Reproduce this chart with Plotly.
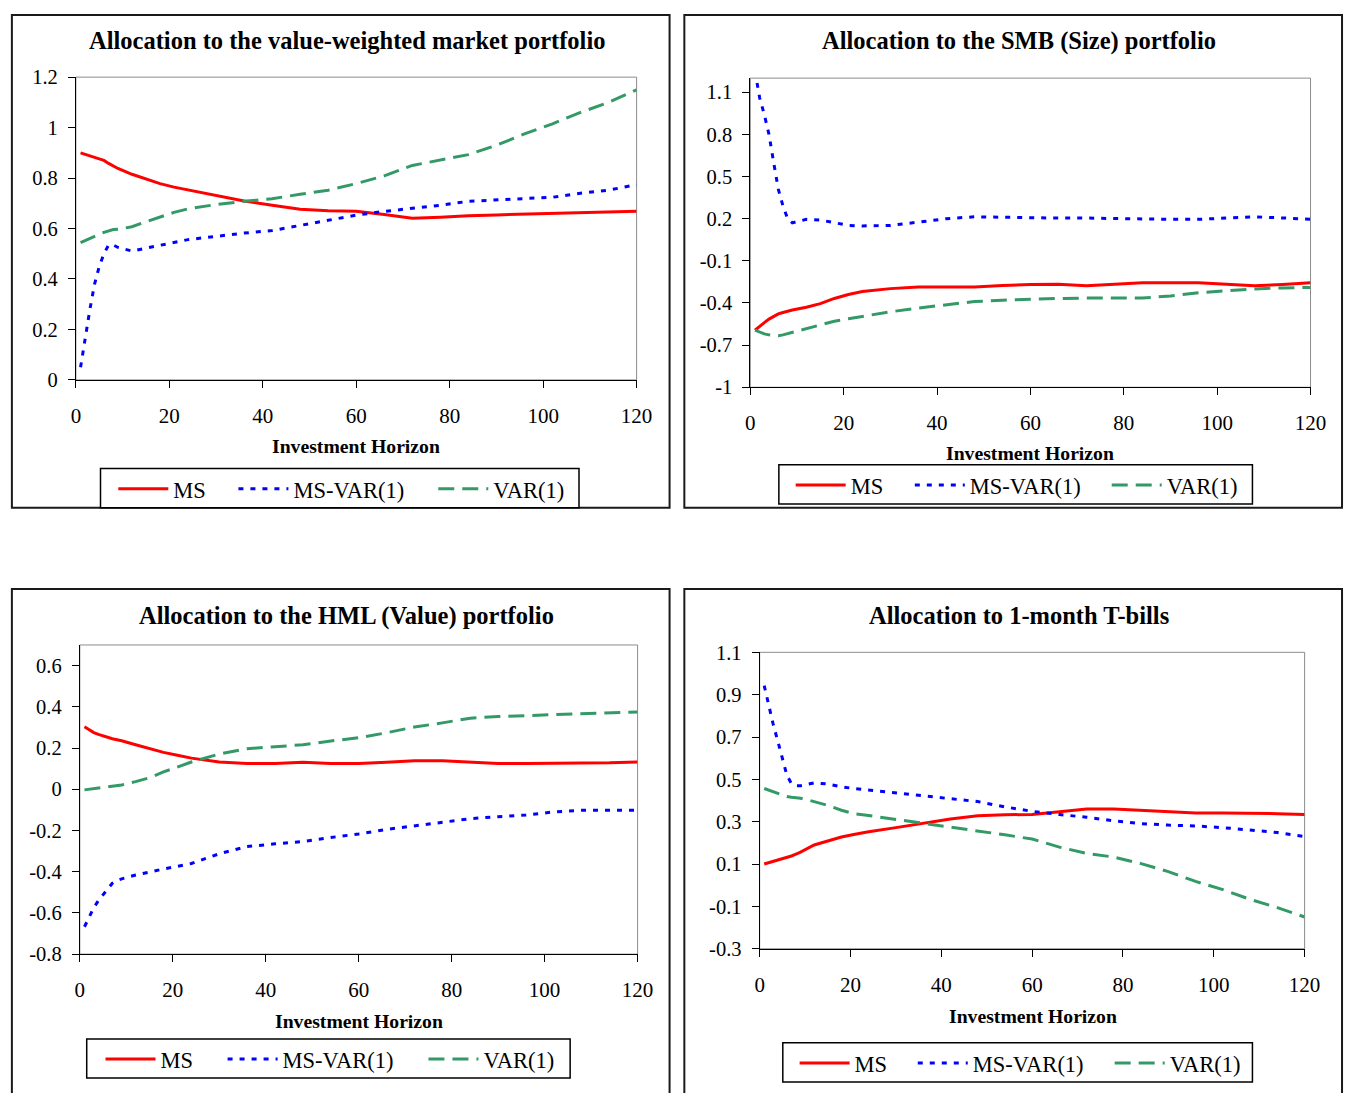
import plotly.graph_objects as go

W, H = 1360, 1093

horizon = [1, 2, 3, 4, 5, 6, 7, 8, 9, 12, 15, 18, 21, 24, 30, 36, 42, 48, 54, 60,
           66, 72, 78, 84, 90, 96, 102, 108, 114, 120]

# Panel 1: value-weighted market portfolio
mkt_ms = [0.900, 0.895, 0.888, 0.882, 0.876, 0.870, 0.858, 0.847, 0.838, 0.815, 0.795, 0.778,
          0.764, 0.753, 0.729, 0.709, 0.692, 0.676, 0.670, 0.668, 0.656, 0.641, 0.645, 0.651,
          0.654, 0.657, 0.660, 0.663, 0.665, 0.668]
mkt_msvar = [0.05, 0.17, 0.28, 0.38, 0.45, 0.50, 0.535, 0.535, 0.525, 0.511, 0.522, 0.535,
             0.546, 0.556, 0.569, 0.582, 0.592, 0.612, 0.633, 0.653, 0.668, 0.681, 0.692, 0.708,
             0.713, 0.717, 0.724, 0.740, 0.752, 0.774]
mkt_var = [0.544, 0.553, 0.561, 0.569, 0.577, 0.585, 0.592, 0.596, 0.597, 0.607, 0.627, 0.647,
           0.664, 0.678, 0.695, 0.708, 0.718, 0.736, 0.752, 0.778, 0.809, 0.850, 0.872, 0.893,
           0.930, 0.975, 1.015, 1.060, 1.100, 1.150]

# Panel 2: SMB (Size) portfolio
smb_ms = [-0.594, -0.565, -0.540, -0.515, -0.495, -0.478, -0.468, -0.458, -0.450, -0.430, -0.405,
          -0.368, -0.340, -0.318, -0.298, -0.287, -0.287, -0.286, -0.276, -0.268, -0.267, -0.278,
          -0.266, -0.256, -0.256, -0.256, -0.266, -0.278, -0.268, -0.256]
smb_msvar = [1.25, 1.06, 0.94, 0.80, 0.60, 0.41, 0.29, 0.20, 0.17, 0.195, 0.19, 0.17, 0.152,
             0.148, 0.152, 0.175, 0.20, 0.213, 0.21, 0.204, 0.204, 0.204, 0.20, 0.195, 0.195,
             0.195, 0.205, 0.213, 0.205, 0.195]
smb_var = [-0.594, -0.608, -0.620, -0.627, -0.632, -0.634, -0.627, -0.618, -0.608, -0.583, -0.555,
           -0.530, -0.512, -0.495, -0.463, -0.436, -0.412, -0.390, -0.380, -0.372, -0.368, -0.365,
           -0.365, -0.365, -0.350, -0.327, -0.313, -0.300, -0.293, -0.290]

# Panel 3: HML (Value) portfolio
hml_ms = [0.303, 0.288, 0.275, 0.266, 0.258, 0.251, 0.245, 0.240, 0.235, 0.216, 0.198, 0.179,
          0.165, 0.151, 0.132, 0.125, 0.125, 0.131, 0.125, 0.125, 0.131, 0.138, 0.138, 0.132,
          0.125, 0.125, 0.125, 0.125, 0.128, 0.132]
hml_msvar = [-0.667, -0.62, -0.575, -0.540, -0.511, -0.480, -0.456, -0.443, -0.435, -0.416, -0.400,
             -0.387, -0.374, -0.360, -0.313, -0.278, -0.265, -0.254, -0.234, -0.217, -0.195, -0.178,
             -0.162, -0.143, -0.133, -0.125, -0.110, -0.102, -0.102, -0.102]
hml_var = [-0.003, 0.000, 0.003, 0.006, 0.008, 0.010, 0.014, 0.018, 0.021, 0.037, 0.056, 0.084,
           0.108, 0.132, 0.171, 0.197, 0.206, 0.216, 0.234, 0.250, 0.274, 0.302, 0.322, 0.345,
           0.353, 0.358, 0.362, 0.365, 0.370, 0.375]

# Panel 4: 1-month T-bills
tb_ms = [0.100, 0.106, 0.112, 0.118, 0.124, 0.129, 0.138, 0.147, 0.156, 0.190, 0.210, 0.228,
         0.241, 0.253, 0.272, 0.292, 0.313, 0.328, 0.333, 0.334, 0.346, 0.360, 0.360, 0.354,
         0.347, 0.341, 0.341, 0.341, 0.338, 0.334]
tb_msvar = [0.943, 0.85, 0.758, 0.680, 0.603, 0.519, 0.480, 0.470, 0.470, 0.483, 0.478, 0.465,
            0.456, 0.449, 0.434, 0.422, 0.408, 0.395, 0.370, 0.349, 0.334, 0.321, 0.304, 0.291,
            0.284, 0.280, 0.272, 0.261, 0.249, 0.230]
tb_var = [0.457, 0.449, 0.441, 0.433, 0.425, 0.419, 0.416, 0.413, 0.411, 0.395, 0.377, 0.354,
          0.337, 0.329, 0.311, 0.292, 0.277, 0.257, 0.238, 0.218, 0.180, 0.150, 0.133, 0.102,
          0.064, 0.018, -0.021, -0.067, -0.106, -0.150]

titles = ["Allocation to the value-weighted market portfolio",
          "Allocation to the SMB (Size) portfolio",
          "Allocation to the HML (Value) portfolio",
          "Allocation to 1-month T-bills"]
series_names = ["MS", "MS-VAR(1)", "VAR(1)"]
x_title = "Investment Horizon"
x_ticks = [0, 20, 40, 60, 80, 100, 120]

y1_ticks = [0, 0.2, 0.4, 0.6, 0.8, 1.0, 1.2]
y1_text = ["0", "0.2", "0.4", "0.6", "0.8", "1", "1.2"]
y2_ticks = [-1, -0.7, -0.4, -0.1, 0.2, 0.5, 0.8, 1.1]
y2_text = ["-1", "-0.7", "-0.4", "-0.1", "0.2", "0.5", "0.8", "1.1"]
y3_ticks = [-0.8, -0.6, -0.4, -0.2, 0, 0.2, 0.4, 0.6]
y3_text = ["-0.8", "-0.6", "-0.4", "-0.2", "0", "0.2", "0.4", "0.6"]
y4_ticks = [-0.3, -0.1, 0.1, 0.3, 0.5, 0.7, 0.9, 1.1]
y4_text = ["-0.3", "-0.1", "0.1", "0.3", "0.5", "0.7", "0.9", "1.1"]

FONT = "Liberation Serif"


def fx(v):
    return v / W


def fy(v):
    return 1 - v / H


# geometry in page pixels
panels = [
    dict(plot=(72, 641.5, 67.5, 376.5), yr=[0, 1.2], yt=(y1_ticks, y1_text),
         data=(mkt_ms, mkt_msvar, mkt_var), title=(347, 30), xt=(356, 444),
         box=(7, 675, 4, 507), legbox=(97, 583, 467, 507),
         items=(115, 237, 440), legy=488),
    dict(plot=(757, 1326, 68.5, 384), yr=[-1, 1.2], yt=(y2_ticks, y2_text),
         data=(smb_ms, smb_msvar, smb_var), title=(1030, 31), xt=(1041, 451),
         box=(690, 1358, 4, 507), legbox=(786, 1267, 463, 503),
         items=(803, 924, 1124), legy=484),
    dict(plot=(76, 642.5, 647, 962.5), yr=[-0.8, 0.7], yt=(y3_ticks, y3_text),
         data=(hml_ms, hml_msvar, hml_var), title=(347, 617), xt=(360, 1031),
         box=(7, 675, 590, 1110), legbox=(83, 574, 1049, 1089),
         items=(102, 226, 430), legy=1070),
    dict(plot=(766.5, 1320, 654.5, 957), yr=[-0.3, 1.1], yt=(y4_ticks, y4_text),
         data=(tb_ms, tb_msvar, tb_var), title=(1030, 617), xt=(1044, 1026),
         box=(690, 1358, 590, 1110), legbox=(790, 1267, 1053, 1093),
         items=(807, 927, 1127), legy=1074),
]

styles = [dict(color="#FF0000", width=3, dash="solid"),
          dict(color="#0000FF", width=3, dash="5px,7px"),
          dict(color="#339966", width=3, dash="16px,8px")]

fig = go.Figure()
layout = dict(width=W, height=H, margin=dict(l=0, r=0, t=0, b=0),
              paper_bgcolor="white", plot_bgcolor="white",
              font=dict(family=FONT, color="black", size=21))
shapes = []
annotations = []

leg_idx = 0
for i, p in enumerate(panels):
    n = i + 1
    xa = "x" if n == 1 else f"x{n}"
    ya = "y" if n == 1 else f"y{n}"
    for k in range(3):
        leg_idx += 1
        leg = "legend" if leg_idx == 1 else f"legend{leg_idx}"
        fig.add_trace(go.Scatter(x=horizon, y=p["data"][k], mode="lines",
                                 name=series_names[k], line=styles[k],
                                 xaxis=xa, yaxis=ya, legend=leg, showlegend=True))
        layout[leg] = dict(orientation="h", x=fx(p["items"][k] - 5), y=fy(p["legy"]),
                           xanchor="left", yanchor="middle", borderwidth=0,
                           bgcolor="rgba(0,0,0,0)", font=dict(size=22.5, family=FONT),
                           itemwidth=50)
    l, r, t, b = p["plot"]
    layout[f"xaxis{'' if n == 1 else n}"] = dict(
        domain=[fx(l), fx(r)], range=[0, 120], tickvals=x_ticks,
        anchor=ya, showline=True, linecolor="black", linewidth=1,
        ticks="outside", ticklen=7, tickcolor="black", showgrid=False, zeroline=False,
        tickfont=dict(size=21, family=FONT), ticklabelstandoff=10)
    layout[f"yaxis{'' if n == 1 else n}"] = dict(
        domain=[fy(b), fy(t)], range=p["yr"], tickvals=p["yt"][0], ticktext=p["yt"][1],
        anchor=xa, showline=True, linecolor="black", linewidth=1,
        ticks="outside", ticklen=7, tickcolor="black", showgrid=False, zeroline=False,
        tickfont=dict(size=20.5, family=FONT), ticklabelstandoff=6)
    shapes.append(dict(type="rect", xref=f"{xa} domain", yref=f"{ya} domain",
                       x0=0, x1=1, y0=0, y1=1, line=dict(color="#8c8c8c", width=1),
                       layer="below"))
    bx0, bx1, by0, by1 = p["box"]
    shapes.append(dict(type="rect", xref="paper", yref="paper",
                       x0=fx(bx0), x1=fx(bx1), y0=fy(by1), y1=fy(by0),
                       line=dict(color="#1a1a1a", width=2), layer="below"))
    lx0, lx1, ly0, ly1 = p["legbox"]
    shapes.append(dict(type="rect", xref="paper", yref="paper",
                       x0=fx(lx0), x1=fx(lx1), y0=fy(ly1), y1=fy(ly0),
                       line=dict(color="black", width=1.5), fillcolor="white",
                       layer="below"))
    annotations.append(dict(text=f"<b>{titles[i]}</b>", xref="paper", yref="paper",
                            x=fx(p["title"][0]), y=fy(p["title"][1]),
                            xanchor="center", yanchor="middle", showarrow=False,
                            font=dict(size=24.5, family=FONT)))
    annotations.append(dict(text=f"<b>{x_title}</b>", xref="paper", yref="paper",
                            x=fx(p["xt"][0]), y=fy(p["xt"][1]),
                            xanchor="center", yanchor="middle", showarrow=False,
                            font=dict(size=19.7, family=FONT)))

layout["shapes"] = shapes
layout["annotations"] = annotations
fig.update_layout(**layout)

# remove the default 8px page margin so the 1360x1093 figure fills the window exactly
page_fix = ("document.body.style.margin='0';"
            "document.documentElement.style.overflow='hidden';")
fig.write_html("out.html", post_script=page_fix,
               config={"displayModeBar": False, "staticPlot": True})
